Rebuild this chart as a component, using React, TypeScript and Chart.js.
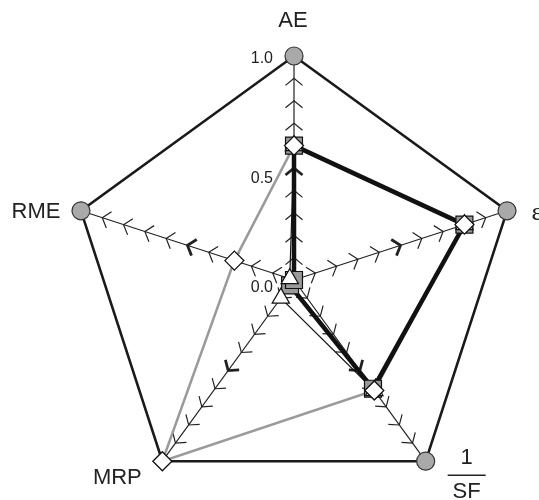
import React, { useEffect, useRef } from "react";
import { Chart, registerables } from "chart.js";
Chart.register(...registerables);

const axisLabels = ["AE", "ε", "1/SF", "MRP", "RME"];
const referenceValues = [1, 1, 1, 1, 1];
const diamondValues = [0.6, 0.8, 0.61, 1.0, 0.28];
const squareValues = [0.6, 0.8, 0.6, 0.03, 0.0];
const triangleValues = [0.6, 0.8, 0.61, 0.1, 0.02];
const tickValues = [0, 0.5, 1];
const tickLabels = ["0.0", "0.5", "1.0"];
const chevronValues = [0.1, 0.2, 0.3, 0.4, 0.5, 0.6, 0.7, 0.8, 0.9];
const boldChevron = 0.5;

const SANS = '"Liberation Sans", Arial, Helvetica, sans-serif';
const SERIF = '"Liberation Serif", "Times New Roman", serif';

const decorPlugin = {
  id: "decor",
  beforeDatasetsDraw(chart: any) {
    const scale = chart.scales.r;
    const ctx = chart.ctx;
    ctx.save();
    ctx.strokeStyle = "#222";
    ctx.lineCap = "butt";
    for (let i = 0; i < axisLabels.length; i++) {
      for (const v of chevronValues) {
        const p = scale.getPointPosition(i, scale.getDistanceFromCenterForValue(v));
        const ux = Math.cos(p.angle);
        const uy = Math.sin(p.angle);
        const nx = -uy;
        const ny = ux;
        const back = 7;
        const side = 8.5;
        ctx.lineWidth = Math.abs(v - boldChevron) < 1e-6 ? 2.8 : 1.2;
        ctx.beginPath();
        ctx.moveTo(p.x - back * ux + side * nx, p.y - back * uy + side * ny);
        ctx.lineTo(p.x, p.y);
        ctx.lineTo(p.x - back * ux - side * nx, p.y - back * uy - side * ny);
        ctx.stroke();
      }
    }
    ctx.restore();
  },
  afterDraw(chart: any) {
    const scale = chart.scales.r;
    const ctx = chart.ctx;
    const R = scale.getDistanceFromCenterForValue(1);
    const v = (i: number) => scale.getPointPosition(i, R);
    ctx.save();
    ctx.fillStyle = "#222";
    ctx.textAlign = "center";
    ctx.textBaseline = "middle";
    ctx.font = `22px ${SANS}`;
    let p = v(0);
    ctx.fillText(axisLabels[0], p.x - 1, p.y - 35);
    p = v(4);
    ctx.fillText(axisLabels[4], p.x - 45, p.y + 1);
    p = v(3);
    ctx.fillText(axisLabels[3], p.x - 45, p.y + 17);
    p = v(2);
    const [num, den] = axisLabels[2].split("/");
    ctx.fillText(num, p.x + 41, p.y - 3);
    ctx.fillText(den, p.x + 41, p.y + 31);
    ctx.strokeStyle = "#222";
    ctx.lineWidth = 1.5;
    ctx.beginPath();
    ctx.moveTo(p.x + 22, p.y + 14);
    ctx.lineTo(p.x + 60, p.y + 14);
    ctx.stroke();
    p = v(1);
    ctx.font = `26px ${SERIF}`;
    ctx.fillText(axisLabels[1], p.x + 30, p.y + 2);
    ctx.font = `16px ${SANS}`;
    ctx.textAlign = "right";
    const tweak: Record<string, number> = { "0": 8, "0.5": 11, "1": 3 };
    tickValues.forEach((t, k) => {
      const q = scale.getPointPosition(0, scale.getDistanceFromCenterForValue(t));
      ctx.fillText(tickLabels[k], q.x - 21, q.y + (tweak[String(t)] ?? 5));
    });
    ctx.restore();
  },
};

export default function App() {
  const ref = useRef<HTMLCanvasElement>(null);
  useEffect(() => {
    const canvas = ref.current!;
    const common = { fill: false, backgroundColor: "rgba(0,0,0,0)" };
    const chart = new Chart(canvas, {
      type: "radar",
      data: {
        labels: axisLabels,
        datasets: [
          {
            ...common,
            label: "diamond markers",
            data: diamondValues,
            showLine: false,
            pointStyle: "rectRot",
            pointRadius: 9.5,
            pointBackgroundColor: "#ffffff",
            pointBorderColor: "#111",
            pointBorderWidth: 1.3,
          },
          {
            ...common,
            label: "triangle markers",
            data: triangleValues,
            showLine: false,
            pointStyle: "triangle",
            pointRadius: 10,
            pointBackgroundColor: "#ffffff",
            pointBorderColor: "#111",
            pointBorderWidth: 1.2,
          },
          {
            ...common,
            label: "squares",
            data: squareValues,
            borderColor: "#111",
            borderWidth: 4.5,
            pointStyle: "rect",
            pointRadius: 12,
            pointBackgroundColor: "#9a9a9a",
            pointBorderColor: "#111",
            pointBorderWidth: 1.2,
          },
          {
            ...common,
            label: "triangle line",
            data: triangleValues,
            borderColor: "#111",
            borderWidth: 1.2,
            pointRadius: 0,
          },
          {
            ...common,
            label: "diamond line",
            data: diamondValues,
            borderColor: "#9a9a9a",
            borderWidth: 2.5,
            pointRadius: 0,
          },
          {
            ...common,
            label: "reference",
            data: referenceValues,
            borderColor: "#1a1a1a",
            borderWidth: 2.6,
            pointStyle: "circle",
            pointRadius: (c: any) => (diamondValues[c.dataIndex] >= 1 ? 0 : 9),
            pointBackgroundColor: "#a9a9a9",
            pointBorderColor: "#333",
            pointBorderWidth: 1.2,
          },
        ],
      },
      options: {
        responsive: false,
        animation: false,
        layout: { padding: { left: 70, top: 56, right: 21, bottom: 16 } },
        plugins: { legend: { display: false }, tooltip: { enabled: false } },
        elements: { line: { tension: 0, fill: false } },
        scales: {
          r: {
            min: 0,
            max: 1,
            ticks: { display: false, stepSize: 0.1 },
            grid: { display: false },
            angleLines: { display: true, color: "#222", lineWidth: 1.2 },
            pointLabels: { display: false },
          },
        },
      },
      plugins: [decorPlugin],
    } as any);
    return () => chart.destroy();
  }, []);
  return (
    <div
      style={{
        position: "fixed",
        left: 0,
        top: 0,
        width: 539,
        height: 500,
        overflow: "hidden",
        background: "#fff",
      }}
    >
      <canvas ref={ref} width={539} height={520} style={{ display: "block" }} />
    </div>
  );
}
